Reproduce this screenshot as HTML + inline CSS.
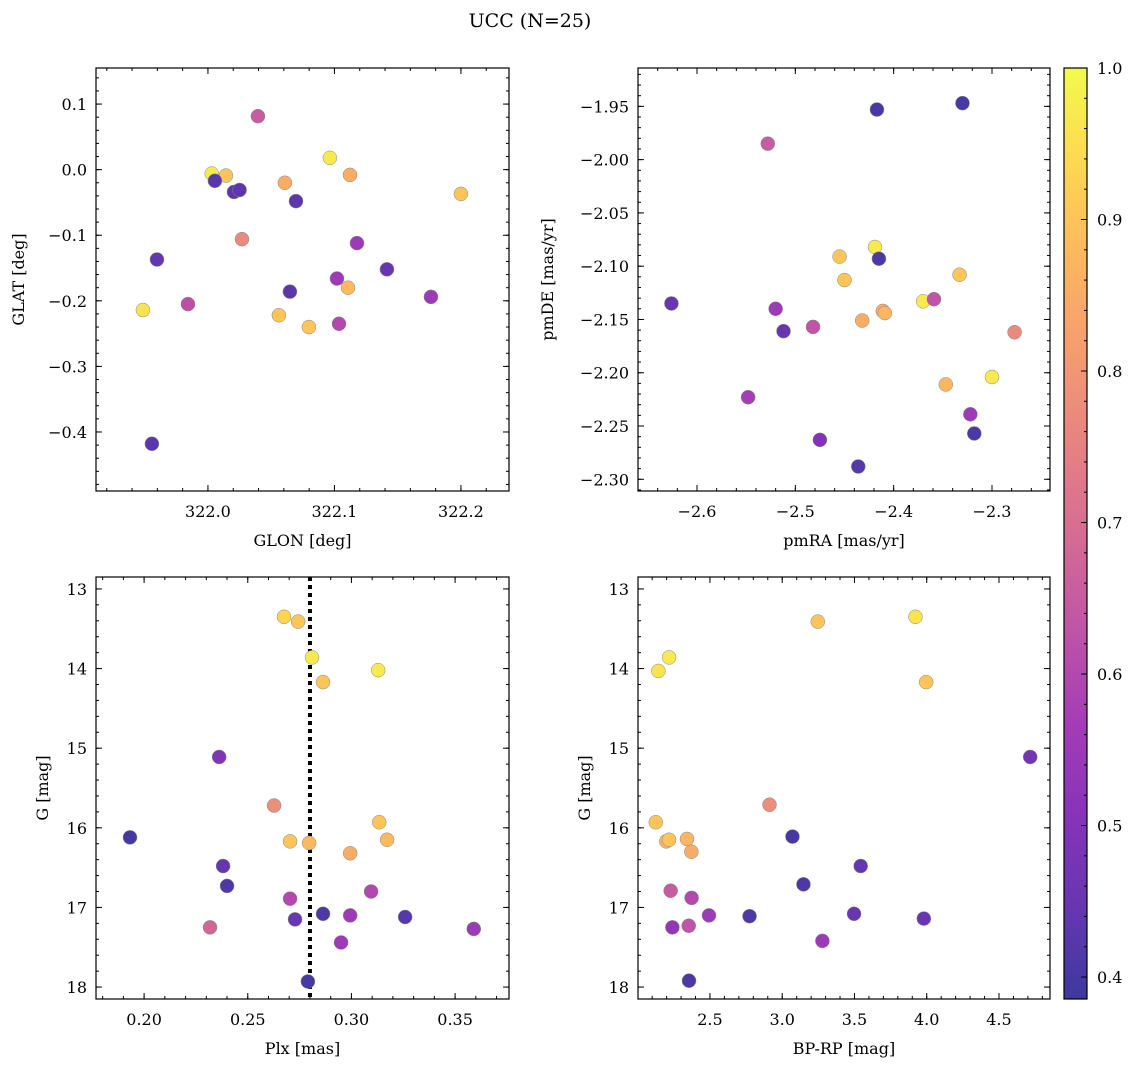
<!DOCTYPE html>
<html><head><meta charset="utf-8">
<style>
body{margin:0;background:#fff;}
svg text{font-family:"DejaVu Serif","Liberation Serif",serif;fill:#000;}
</style></head>
<body>
<svg id="fig" width="1136" height="1067" viewBox="0 0 1136 1067" xmlns="http://www.w3.org/2000/svg">
<text x="530" y="27" font-size="19" text-anchor="middle">UCC (N=25)</text>
</svg>
<script>
// ---- data ----
const glon = [322.0395,322.003,322.0142,322.0055,322.0206,322.025,322.0608,322.0964,322.1123,322.0696,322.2,322.0269,322.1178,321.9597,322.1415,321.9486,321.9842,322.0648,322.102,322.1107,322.0561,322.0798,322.1036,322.1763,321.9557];
const glat = [0.0815,-0.006,-0.009,-0.017,-0.034,-0.031,-0.020,0.018,-0.008,-0.048,-0.037,-0.106,-0.112,-0.137,-0.152,-0.214,-0.205,-0.186,-0.166,-0.180,-0.222,-0.240,-0.235,-0.194,-0.418];
const probA = [0.65,0.97,0.9,0.42,0.43,0.43,0.85,0.97,0.85,0.43,0.9,0.77,0.55,0.44,0.45,0.96,0.62,0.43,0.55,0.88,0.9,0.9,0.6,0.55,0.43];

const pmra = [-2.417,-2.330,-2.528,-2.419,-2.415,-2.455,-2.450,-2.333,-2.626,-2.370,-2.359,-2.520,-2.411,-2.409,-2.432,-2.512,-2.482,-2.277,-2.300,-2.347,-2.548,-2.322,-2.318,-2.475,-2.436];
const pmde = [-1.953,-1.947,-1.985,-2.082,-2.093,-2.091,-2.113,-2.108,-2.135,-2.133,-2.131,-2.140,-2.142,-2.144,-2.151,-2.161,-2.157,-2.162,-2.204,-2.211,-2.223,-2.239,-2.257,-2.263,-2.288];
const probB = [0.40,0.40,0.65,0.97,0.41,0.9,0.9,0.9,0.45,0.97,0.63,0.55,0.85,0.87,0.85,0.45,0.63,0.77,0.97,0.87,0.57,0.55,0.41,0.5,0.42];

const plx = [0.1932,0.2362,0.2381,0.240,0.2318,0.2627,0.2675,0.2743,0.281,0.2863,0.3129,0.2704,0.2796,0.3134,0.3172,0.2994,0.2704,0.2728,0.2863,0.2994,0.3095,0.3259,0.295,0.359,0.279];
const gmagC = [16.12,15.11,16.48,16.73,17.25,15.72,13.35,13.41,13.86,14.17,14.02,16.17,16.19,15.93,16.15,16.32,16.89,17.15,17.08,17.10,16.80,17.12,17.44,17.27,17.93];
const probC = [0.40,0.5,0.44,0.41,0.68,0.78,0.93,0.9,0.97,0.9,0.97,0.9,0.88,0.9,0.88,0.85,0.6,0.45,0.41,0.55,0.6,0.42,0.55,0.55,0.40];
const plxMean = [0.28];

const bprp = [3.246,3.922,2.217,2.143,3.996,4.716,2.912,2.125,2.198,2.217,2.341,2.371,3.071,3.543,3.147,2.228,2.373,2.493,2.774,3.497,3.980,2.240,2.353,3.278,2.355];
const gmagD = [13.41,13.35,13.86,14.03,14.17,15.11,15.71,15.93,16.17,16.15,16.14,16.30,16.11,16.48,16.71,16.79,16.88,17.10,17.11,17.08,17.14,17.25,17.23,17.42,17.92];
const probD = [0.9,0.96,0.97,0.96,0.9,0.47,0.78,0.9,0.87,0.9,0.87,0.85,0.40,0.44,0.41,0.65,0.6,0.55,0.41,0.45,0.45,0.53,0.63,0.55,0.41];

const ticksA_x = [322.0,322.1,322.2], ticksA_y = [0.1,0.0,-0.1,-0.2,-0.3,-0.4];
const ticksB_x = [-2.6,-2.5,-2.4,-2.3], ticksB_y = [-1.95,-2.00,-2.05,-2.10,-2.15,-2.20,-2.25,-2.30];
const ticksC_x = [0.20,0.25,0.30,0.35], ticksC_y = [13,14,15,16,17,18];
const ticksD_x = [2.5,3.0,3.5,4.0,4.5], ticksD_y = [13,14,15,16,17,18];
const cbarTicks = [0.4,0.5,0.6,0.7,0.8,0.9,1.0];
const vmin = 0.3855, vmax = 1.0;

// ---- helpers ----
const NS = "http://www.w3.org/2000/svg";
const svg = document.getElementById('fig');
function mk(tag, attrs, parent){const e=document.createElementNS(NS,tag);for(const k in attrs)e.setAttribute(k,attrs[k]);(parent||svg).appendChild(e);return e;}
const stops=[[13,8,135],[65,4,157],[106,0,168],[143,13,164],[177,42,144],[204,71,120],[225,100,98],[242,132,75],[252,166,54],[252,206,37],[240,249,33]];
function plasma(t){t=Math.max(0,Math.min(1,t));const f=t*10,i=Math.min(9,Math.floor(f)),r=f-i;const a=stops[i],b=stops[i+1];
 const c=[0,1,2].map(k=>Math.round((a[k]+(b[k]-a[k])*r)*0.8+255*0.2));return `rgb(${c[0]},${c[1]},${c[2]})`;}
function pcol(p){return plasma((p-vmin)/(vmax-vmin));}
function fmt(v,d){const s=Math.abs(v).toFixed(d);return (v<0?'\u2212':'')+s;}

function panel(o){
 const g=mk('g',{});
 
 
 const sx=v=>o.L+(v-o.x0)/(o.x1-o.x0)*(o.R-o.L);
 const sy=v=>o.B-(v-o.y0)/(o.y1-o.y0)*(o.B-o.T);
 const tk=mk('g',{stroke:'#000','stroke-width':1},g);
 
 
 const xlo=Math.min(o.x0,o.x1),xhi=Math.max(o.x0,o.x1),ylo=Math.min(o.y0,o.y1),yhi=Math.max(o.y0,o.y1);
 for(let v=Math.ceil(xlo/o.xm-1e-6)*o.xm;v<=xhi;v+=o.xm){const x=sx(v);mk('line',{x1:x,x2:x,y1:o.B,y2:o.B-3},tk);mk('line',{x1:x,x2:x,y1:o.T,y2:o.T+3},tk);}
 for(let v=Math.ceil(ylo/o.ym-1e-6)*o.ym;v<=yhi;v+=o.ym){const y=sy(v);mk('line',{x1:o.L,x2:o.L+3,y1:y,y2:y},tk);mk('line',{x1:o.R,x2:o.R-3,y1:y,y2:y},tk);}
 o.tx.forEach(v=>{const x=sx(v);mk('line',{x1:x,x2:x,y1:o.B,y2:o.B-6},tk);mk('line',{x1:x,x2:x,y1:o.T,y2:o.T+6},tk);
  const t=mk('text',{x:x,y:o.B+26,'font-size':16,'text-anchor':'middle'},g);t.textContent=fmt(v,o.xd);
  });
 o.ty.forEach(v=>{const y=sy(v);mk('line',{x1:o.L,x2:o.L+6,y1:y,y2:y},tk);mk('line',{x1:o.R,x2:o.R-6,y1:y,y2:y},tk);
  const t=mk('text',{x:o.L-9,y:y+6,'font-size':16,'text-anchor':'end'},g);t.textContent=fmt(v,o.yd);
  });
 if(o.vline!==undefined){const x=sx(o.vline);const ln=mk('line',{x1:x,x2:x,y1:o.T,y2:o.B,stroke:'#000','stroke-width':4,'stroke-dasharray':'4 4'},g);
  }
 o.xs.forEach((v,i)=>{const c=mk('circle',{cx:sx(v),cy:sy(o.ys[i]),r:7,fill:pcol(o.ps[i]),stroke:'#888','stroke-width':0.5},g);
  });
 const fr=mk('rect',{x:o.L,y:o.T,width:o.R-o.L,height:o.B-o.T,fill:'none',stroke:'#000','stroke-width':1.2},g);
 
 const xl=mk('text',{x:(o.L+o.R)/2,y:o.B+55,'font-size':16,'text-anchor':'middle'},g);xl.textContent=o.xlabel;
 
 const yx=o.ylx, yy=(o.T+o.B)/2;
 const yl=mk('text',{x:yx,y:yy,'font-size':16,'text-anchor':'middle',transform:`rotate(-90 ${yx} ${yy})`},g);yl.textContent=o.ylabel;
 
}

panel({name:'glon-glat-panel',L:96,R:509,T:68,B:491,x0:321.9115,x1:322.238,y0:-0.49,y1:0.155,xm:0.02,ym:0.02,tx:ticksA_x,ty:ticksA_y,xd:1,yd:1,xs:glon,ys:glat,ps:probA,xlabel:'GLON [deg]',ylabel:'GLAT [deg]',ylx:24});
panel({name:'pm-panel',L:638,R:1050,T:68,B:491,x0:-2.66,x1:-2.241,y0:-2.311,y1:-1.914,xm:0.02,ym:0.01,tx:ticksB_x,ty:ticksB_y,xd:1,yd:2,xs:pmra,ys:pmde,ps:probB,xlabel:'pmRA [mas/yr]',ylabel:'pmDE [mas/yr]',ylx:553});
panel({name:'plx-g-panel',L:96,R:509,T:577,B:999,x0:0.1768,x1:0.376,y0:18.15,y1:12.85,xm:0.01,ym:0.2,tx:ticksC_x,ty:ticksC_y,xd:2,yd:0,xs:plx,ys:gmagC,ps:probC,xlabel:'Plx [mas]',ylabel:'G [mag]',ylx:48,vline:plxMean[0]});
panel({name:'cmd-panel',L:638,R:1050,T:577,B:999,x0:2.002,x1:4.853,y0:18.15,y1:12.85,xm:0.1,ym:0.2,tx:ticksD_x,ty:ticksD_y,xd:1,yd:0,xs:bprp,ys:gmagD,ps:probD,xlabel:'BP-RP [mag]',ylabel:'G [mag]',ylx:590});

// colorbar
(function(){
 const L=1064,R=1087,T=68,B=999;
 const g=mk('g',{});
 
 
 const defs=mk('defs',{},g);
 const lg=mk('linearGradient',{id:'cb',x1:0,y1:1,x2:0,y2:0},defs);
 for(let i=0;i<=20;i++){mk('stop',{offset:i/20,'stop-color':plasma(i/20)},lg);}
 mk('rect',{x:L,y:T,width:R-L,height:B-T,fill:'url(#cb)'},g);
 const sy=v=>B-(v-vmin)/(vmax-vmin)*(B-T);
 for(let v=0.40;v<=1.0001;v+=0.02){const y=sy(v);mk('line',{x1:R,x2:R-3,y1:y,y2:y,stroke:'#000'},g);}
 cbarTicks.forEach(v=>{const y=sy(v);mk('line',{x1:R,x2:R-6,y1:y,y2:y,stroke:'#000'},g);
  const t=mk('text',{x:R+10,y:y+6,'font-size':16},g);t.textContent=v.toFixed(1);
  });
 mk('rect',{x:L,y:T,width:R-L,height:B-T,fill:'none',stroke:'#000','stroke-width':1.2},g);
})();
</script>
</body></html>
